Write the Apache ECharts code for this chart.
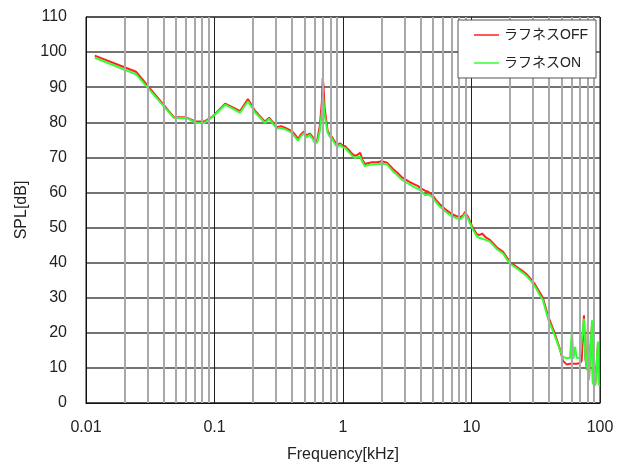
<!DOCTYPE html>
<html>
<head>
<meta charset="utf-8">
<script src="https://cdn.jsdelivr.net/npm/echarts@6/dist/echarts.min.js"></script>
<style>html,body{margin:0;padding:0;background:#fff;}#c{width:627px;height:466px;}</style>
</head>
<body>
<div id="c"></div>
<script>
var seriesNames = ['ラフネスOFF', 'ラフネスON'];
var xTickLabels = ['0.01', '0.1', '1', '10', '100'];
var minorGridFreqs = [0.02,0.03,0.04,0.05,0.06,0.07,0.08,0.09,
  0.2,0.3,0.4,0.5,0.6,0.7,0.8,0.9,
  2,3,4,5,6,7,8,9,
  20,30,40,50,60,70,80,90];
var freq = [0.0117,0.0245,0.0484,0.06,0.0716,0.083,0.097,0.121,0.14,0.158,0.182,0.207,0.22,0.247,0.266,0.285,0.306,0.33,0.36,0.40,0.42,0.447,0.47,0.497,0.52,0.55,0.58,0.606,0.63,0.66,0.685,0.695,0.703,0.72,0.76,0.79,0.82,0.86,0.898,0.948,0.99,1.04,1.08,1.13,1.18,1.24,1.30,1.36,1.42,1.48,1.58,1.68,1.84,2.0,2.2,2.45,2.65,2.88,3.1,3.32,3.6,3.84,4.1,4.35,4.6,4.93,5.3,5.69,6.3,7.05,7.6,8.14,8.6,8.9,9.4,10.1,11.0,11.6,12.1,13.0,13.9,15.8,17.6,18.8,20,21.5,23,25,27,29,31.2,34,36,39.4,44.7,48.9,51.5,55,58.4,60.5,62,64,66,69.8,72,75,77,79.3,80.5,82,86.7,88,92,96.4,98,100];
var splOff = [99.0,94.4,81.4,81.4,80.2,80.2,81.7,85.3,84.2,83.2,86.6,83.2,82.2,80.2,81.3,80.0,78.6,78.9,78.3,77.5,76.6,75.3,76.5,77.4,76.2,76.8,75.8,74.6,74.8,79.0,86.0,92.6,91.0,84.0,77.5,76.4,75.8,74.6,73.5,74.0,73.4,73.2,72.5,71.8,71.0,70.4,70.8,71.3,69.2,68.1,68.4,68.6,68.6,68.9,68.5,66.7,65.6,64.3,63.6,62.9,62.3,61.8,61.0,60.5,60.2,59.4,57.8,56.6,55.1,53.8,53.3,52.9,53.5,54.4,53.0,50.4,48.1,47.9,48.3,47.1,46.5,44.3,43.1,41.5,40.0,39.3,38.5,37.6,36.6,35.3,33.8,31.5,29.9,24.8,19.6,15.2,12.0,11.0,11.2,11.5,11.2,11.5,11.2,11.4,12.0,25.0,12.5,9.4,22.8,7.0,22.5,6.0,5.5,17.0,5.6,5.6];
var splOn = [98.4,93.7,81.2,81.3,79.8,79.8,81.6,85.0,83.8,82.7,86.0,82.8,81.8,79.8,81.0,79.6,78.2,78.4,77.9,77.0,76.0,74.8,76.0,77.0,75.7,76.4,75.3,74.0,74.2,77.5,83.0,87.8,86.5,82.0,77.0,75.9,75.4,74.0,73.0,73.6,72.9,72.7,72.0,71.2,70.4,69.8,70.1,70.2,68.6,67.5,67.8,68.0,68.1,68.2,68.0,66.0,64.9,63.6,62.9,62.2,61.5,61.0,60.3,59.2,59.4,58.8,57.2,55.9,54.5,53.2,52.7,52.3,53.1,54.0,52.5,49.9,47.5,47.0,46.8,46.4,46.0,43.8,42.6,41.0,39.6,38.9,38.1,37.1,36.1,34.8,33.2,30.8,29.3,24.0,19.0,15.0,13.1,12.8,12.8,20.8,12.6,16.0,12.8,12.9,13.0,24.0,12.8,9.5,21.0,6.5,23.6,5.5,5.0,17.5,5.0,5.2];

function pairs(xs, ys){ var out=[]; for(var i=0;i<xs.length;i++){ out.push([xs[i], ys[i]]); } return out; }

var FONT = 'Liberation Sans, Arial, "Noto Sans CJK JP", sans-serif';
var chart = echarts.init(document.getElementById('c'), null, {renderer:'canvas'});
chart.setOption({
  animation: false,
  backgroundColor: '#fff',
  grid: {left: 86, right: 27, top: 17, bottom: 63, outerBoundsMode: 'none', containLabel: false,
    show: true, borderColor: '#111', borderWidth: 1, backgroundColor: 'transparent'},
  legend: {
    orient: 'vertical', right: 31, top: 20, z: 20,
    backgroundColor: '#fff', borderColor: '#555', borderWidth: 1,
    padding: [8, 8, 8, 16], itemGap: 14, itemWidth: 25, itemHeight: 1.5, itemTextGap: 2,
    icon: 'rect',
    textStyle: {fontFamily: FONT, fontSize: 14, color: '#222'},
    data: seriesNames
  },
  xAxis: {
    type: 'log', logBase: 10, min: 0.01, max: 100,
    name: 'Frequency[kHz]', nameLocation: 'middle', nameGap: 44,
    nameTextStyle: {fontFamily: FONT, fontSize: 16, color: '#222'},
    axisLine: {show: true, lineStyle: {color: '#111'}},
    axisTick: {show: false},
    axisLabel: {fontFamily: FONT, fontSize: 16, color: '#222', margin: 17,
      formatter: function(v){ var i = Math.round(Math.log10(v)) + 2; return xTickLabels[i] || ''; }},
    splitLine: {show: true, lineStyle: {color: '#222', width: 1}}
  },
  yAxis: {
    type: 'value', min: 0, max: 110, interval: 10,
    name: 'SPL[dB]', nameLocation: 'middle', nameGap: 56,
    nameTextStyle: {fontFamily: FONT, fontSize: 16, color: '#222'},
    axisLine: {show: true, lineStyle: {color: '#111'}},
    axisTick: {show: false},
    axisLabel: {fontFamily: FONT, fontSize: 16, color: '#222', margin: 19},
    splitLine: {show: true, lineStyle: {color: '#444', width: 1.5}}
  },
  series: [
    {
      name: 'grid-minor', type: 'line', data: [], z: 1, silent: true,
      markLine: {
        silent: true, symbol: ['none','none'], label: {show: false},
        lineStyle: {color: '#a8a8ad', width: 2, type: 'solid'},
        animation: false,
        data: minorGridFreqs.map(function(f){ return {xAxis: f}; })
      }
    },
    {
      name: seriesNames[0], type: 'line', showSymbol: false, z: 3,
      lineStyle: {color: '#ff2020', width: 2}, itemStyle: {color: '#ff2020'},
      data: pairs(freq, splOff)
    },
    {
      name: seriesNames[1], type: 'line', showSymbol: false, z: 4,
      lineStyle: {color: '#33ff33', width: 2}, itemStyle: {color: '#33ff33'},
      data: pairs(freq, splOn)
    }
  ]
});
</script>
</body>
</html>
